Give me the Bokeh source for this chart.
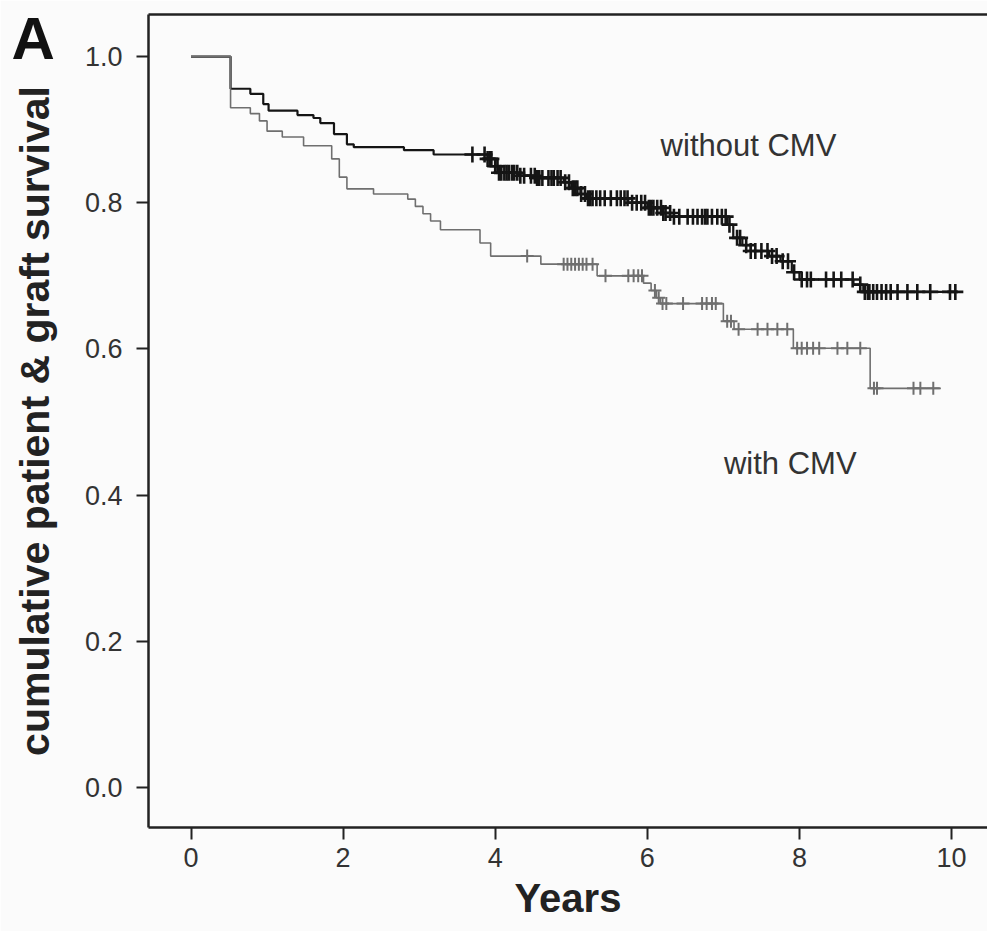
import numpy as np
from bokeh.plotting import figure
from bokeh.models import Range1d, LinearAxis, Label, Title, FixedTicker, PrintfTickFormatter
from bokeh.embed import file_html
from bokeh.resources import INLINE

# ---- data ----
without_t = [0.0, 0.52, 0.78, 0.95, 1.02, 1.40, 1.61, 1.70, 1.88, 2.05, 2.14, 2.80, 3.19,
             3.90, 4.00, 4.05, 4.30, 4.55, 4.90, 5.00, 5.12, 5.20, 5.75, 6.00, 6.20, 6.35,
             7.05, 7.13, 7.25, 7.36, 7.60, 7.75, 7.90, 8.00, 8.71, 8.84, 10.07]
without_s = [1.000, 0.956, 0.949, 0.935, 0.926, 0.920, 0.916, 0.909, 0.894, 0.880, 0.876,
             0.872, 0.866, 0.860, 0.850, 0.841, 0.837, 0.834, 0.828, 0.820, 0.812, 0.806,
             0.800, 0.793, 0.786, 0.781, 0.770, 0.752, 0.742, 0.734, 0.727, 0.720, 0.705,
             0.695, 0.688, 0.678, 0.678]
without_censor = [3.70, 3.86, 3.90, 3.93, 3.95, 4.00, 4.03, 4.05, 4.08, 4.12, 4.15, 4.18,
                  4.22, 4.25, 4.29, 4.33, 4.38, 4.47, 4.52, 4.55, 4.58, 4.62, 4.70, 4.74,
                  4.77, 4.82, 4.86, 4.92, 4.97, 5.02, 5.05, 5.08, 5.13, 5.18, 5.22, 5.25,
                  5.28, 5.33, 5.38, 5.44, 5.52, 5.60, 5.65, 5.70, 5.74, 5.80, 5.86, 5.92,
                  5.97, 6.02, 6.05, 6.08, 6.13, 6.18, 6.21, 6.24, 6.30, 6.35, 6.42, 6.53,
                  6.60, 6.66, 6.72, 6.76, 6.79, 6.85, 6.92, 6.98, 7.03, 7.08, 7.18, 7.22,
                  7.30, 7.36, 7.42, 7.50, 7.58, 7.64, 7.70, 7.78, 7.85, 7.93, 8.03, 8.10,
                  8.15, 8.35, 8.45, 8.55, 8.70, 8.80, 8.86, 8.90, 8.92, 8.97, 9.02, 9.08,
                  9.14, 9.20, 9.29, 9.42, 9.55, 9.72, 9.98, 10.05]

with_t = [0.0, 0.52, 0.78, 0.90, 1.00, 1.20, 1.48, 1.85, 1.95, 2.05, 2.40, 2.85, 2.95,
          3.05, 3.15, 3.28, 3.80, 3.94, 4.60, 5.34, 5.95, 6.05, 6.12, 6.17, 7.00, 7.14,
          7.92, 8.93, 9.86]
with_s = [1.000, 0.930, 0.922, 0.912, 0.898, 0.890, 0.878, 0.860, 0.835, 0.819, 0.812,
          0.805, 0.795, 0.785, 0.775, 0.763, 0.745, 0.727, 0.716, 0.700, 0.690, 0.680,
          0.670, 0.662, 0.638, 0.627, 0.601, 0.546, 0.546]
with_censor = [4.42, 4.90, 4.95, 5.00, 5.05, 5.10, 5.15, 5.20, 5.28, 5.45, 5.75, 5.82,
               5.88, 5.93, 6.10, 6.15, 6.20, 6.25, 6.47, 6.72, 6.78, 6.85, 6.90, 7.05,
               7.10, 7.20, 7.45, 7.58, 7.71, 7.84, 7.97, 8.03, 8.10, 8.18, 8.26, 8.50,
               8.63, 8.80, 8.98, 9.02, 9.50, 9.59, 9.76]

x_ticks = [0, 2, 4, 6, 8, 10]
y_ticks = [0.0, 0.2, 0.4, 0.6, 0.8, 1.0]

BLACK = "#151515"
GREY = "#6f6f6f"
BG = "#fbfbfb"
FONT = "Liberation Sans"


def at(times, surv, c):
    t = np.asarray(times)
    s = np.asarray(surv)
    idx = np.searchsorted(t, np.asarray(c), side="right") - 1
    return s[idx]


p = figure(width=987, height=931, output_backend="svg", toolbar_location=None,
           x_range=Range1d(-0.559, 10.473), y_range=Range1d(-0.0549, 1.0576),
           x_axis_type=None, y_axis_type=None,
           min_border_left=148, min_border_right=0, min_border_top=14,
           min_border_bottom=104)
p.background_fill_color = BG
p.border_fill_color = BG
p.outline_line_color = None
p.grid.visible = False

# top frame line (no ticks, no labels)
top = LinearAxis(ticker=FixedTicker(ticks=[]), major_tick_line_color=None,
                 minor_tick_line_color=None, major_label_text_font_size="0px",
                 axis_line_width=2.5, axis_line_color="#222222",
                 major_tick_out=0, major_tick_in=0, minor_tick_out=0, minor_tick_in=0,
                 major_label_standoff=0)
p.add_layout(top, "above")

xax = LinearAxis(ticker=FixedTicker(ticks=x_ticks), axis_label="Years")
yax = LinearAxis(ticker=FixedTicker(ticks=y_ticks),
                 formatter=PrintfTickFormatter(format="%.1f"),
                 axis_label="cumulative patient & graft survival")
for ax in (xax, yax):
    ax.axis_line_width = 2.5
    ax.axis_line_color = "#222222"
    ax.major_tick_line_width = 2
    ax.major_tick_line_color = "#222222"
    ax.major_tick_out = 12
    ax.major_tick_in = 0
    ax.minor_tick_line_color = None
    ax.major_label_text_font = FONT
    ax.major_label_text_font_size = "27px"
    ax.major_label_text_color = "#333333"
    ax.axis_label_text_font = FONT
    ax.axis_label_text_font_style = "bold"
    ax.axis_label_text_color = "#222222"
xax.major_label_standoff = 8
yax.major_label_standoff = 14
xax.axis_label_text_font_size = "40px"
yax.axis_label_text_font_size = "41px"
xax.axis_label_standoff = 6
yax.axis_label_standoff = 24
p.add_layout(xax, "below")
p.add_layout(yax, "left")

# curves
p.step(without_t, without_s, mode="after", line_color=BLACK, line_width=2.2)
p.scatter(without_censor, at(without_t, without_s, without_censor), marker="cross",
          size=16, line_color=BLACK, line_width=2.6)
p.step(with_t, with_s, mode="after", line_color=GREY, line_width=1.6)
p.scatter(with_censor, at(with_t, with_s, with_censor), marker="cross",
          size=13, line_color=GREY, line_width=2)

# annotations
p.add_layout(Label(x=7.33, y=0.878, text="without CMV", text_font=FONT,
                   text_font_size="31px", text_color="#333333",
                   text_align="center", text_baseline="middle"))
p.add_layout(Label(x=7.88, y=0.443, text="with CMV", text_font=FONT,
                   text_font_size="31px", text_color="#333333",
                   text_align="center", text_baseline="middle"))
# panel letter as a title whose (negative) standoff keeps its band from taking space
p.add_layout(Title(text="A", text_font=FONT, text_font_size="60px",
                   text_font_style="bold", text_color="#111111",
                   align="left", vertical_align="bottom", offset=-137,
                   standoff=-114), "above")

open("out.html", "w").write(file_html(p, INLINE))
